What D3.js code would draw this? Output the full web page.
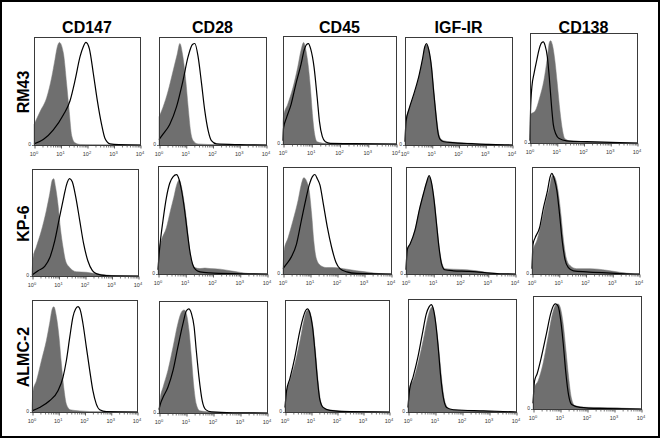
<!DOCTYPE html>
<html><head><meta charset="utf-8">
<script src="https://cdn.jsdelivr.net/npm/d3@7"></script>
<style>html,body{margin:0;padding:0;background:#fff}svg{display:block}</style>
</head><body><svg id="c" width="660" height="438"></svg>
<script>
// ---------- data ----------
const markers = ["CD147", "CD28", "CD45", "IGF-IR", "CD138"];
const cellLines = ["RM43", "KP-6", "ALMC-2"];
const majorTicks = [1, 10, 100, 1000, 10000];
const majorExponents = ["0", "1", "2", "3", "4"];
const yZeroLabel = "0";
// each curve: [log10(fluorescence), fraction of mode-scaled full height]
// gray filled = control, black outline = stained
const rm43_cd147_ctrl  = [[0,0.19],[0.23,0.31],[0.48,0.44],[0.67,0.63],[0.79,0.79],[0.88,0.91],[0.96,0.95],[1.11,0.85],[1.23,0.57],[1.33,0.31],[1.42,0.09],[1.55,0.02],[1.75,0.005],[2.2,0.002],[4,0]];
const rm43_cd147_stain = [[0,0.01],[0.35,0.05],[0.73,0.14],[1.11,0.28],[1.36,0.41],[1.55,0.6],[1.74,0.82],[1.86,0.91],[1.96,0.95],[2.09,0.89],[2.24,0.66],[2.39,0.41],[2.55,0.19],[2.68,0.06],[2.87,0.01],[3.2,0.003],[4,0]];
const rm43_cd28_ctrl   = [[0,0.26],[0.15,0.35],[0.34,0.5],[0.53,0.69],[0.68,0.84],[0.78,0.94],[0.88,0.84],[1.0,0.6],[1.09,0.35],[1.18,0.13],[1.28,0.04],[1.46,0.01],[2.2,0.003],[4,0]];
const rm43_cd28_stain  = [[0,0.05],[0.15,0.1],[0.4,0.19],[0.65,0.35],[0.9,0.6],[1.09,0.82],[1.25,0.93],[1.34,0.94],[1.46,0.82],[1.59,0.57],[1.71,0.32],[1.84,0.13],[1.96,0.04],[2.15,0.01],[3,0.003],[4,0]];
const rm43_cd45_ctrl   = [[0,0.2],[0.02,0.26],[0.17,0.37],[0.35,0.52],[0.52,0.71],[0.64,0.87],[0.73,0.94],[0.81,0.87],[0.9,0.71],[0.98,0.49],[1.04,0.28],[1.12,0.09],[1.21,0.02],[1.56,0.004],[4,0]];
const rm43_cd45_stain  = [[0,0.03],[0.02,0.15],[0.12,0.24],[0.29,0.37],[0.46,0.56],[0.64,0.74],[0.75,0.87],[0.83,0.92],[0.9,0.93],[0.98,0.88],[1.1,0.71],[1.21,0.43],[1.29,0.21],[1.39,0.07],[1.5,0.02],[1.68,0.005],[2.5,0.003],[4,0]];
const rm43_igf_ctrl    = [[0,0.05],[0.04,0.23],[0.16,0.34],[0.34,0.47],[0.53,0.64],[0.65,0.78],[0.75,0.91],[0.81,0.93],[0.9,0.87],[1.0,0.72],[1.08,0.5],[1.17,0.28],[1.24,0.14],[1.33,0.06],[1.45,0.04],[1.88,0.025],[2.5,0.015],[3.11,0.006],[3.73,0.001],[4,0]];
const rm43_igf_stain   = [[0,0.03],[0.04,0.22],[0.16,0.34],[0.34,0.48],[0.53,0.65],[0.65,0.79],[0.74,0.91],[0.8,0.94],[0.89,0.88],[0.99,0.72],[1.07,0.5],[1.16,0.27],[1.23,0.12],[1.32,0.05],[1.45,0.03],[1.88,0.02],[2.5,0.012],[3.11,0.005],[3.73,0.001],[4,0]];
const rm43_cd138_ctrl  = [[0,0.05],[0.02,0.26],[0.19,0.29],[0.37,0.42],[0.52,0.57],[0.65,0.78],[0.72,0.91],[0.77,0.93],[0.84,0.89],[0.93,0.75],[1.02,0.54],[1.12,0.29],[1.22,0.11],[1.3,0.04],[1.49,0.02],[2.11,0.012],[3.35,0.003],[4,0]];
const rm43_cd138_stain = [[0,0.02],[0.02,0.29],[0.07,0.51],[0.15,0.63],[0.25,0.75],[0.35,0.86],[0.43,0.91],[0.5,0.92],[0.56,0.89],[0.65,0.78],[0.72,0.6],[0.81,0.32],[0.87,0.17],[0.97,0.08],[1.09,0.04],[1.37,0.02],[2.11,0.012],[3.35,0.003],[4,0]];

const kp6_cd147_ctrl   = [[0,0.03],[0.04,0.17],[0.16,0.27],[0.35,0.42],[0.54,0.61],[0.67,0.77],[0.77,0.9],[0.82,0.91],[0.89,0.83],[0.98,0.67],[1.07,0.45],[1.17,0.27],[1.27,0.14],[1.42,0.08],[1.67,0.04],[2.05,0.035],[2.43,0.02],[2.8,0.01],[3.18,0.002],[4,0]];
const kp6_cd147_stain  = [[0,0.01],[0.23,0.05],[0.48,0.09],[0.67,0.17],[0.86,0.33],[1.04,0.55],[1.2,0.74],[1.3,0.85],[1.42,0.91],[1.52,0.88],[1.65,0.74],[1.8,0.52],[1.95,0.3],[2.11,0.14],[2.28,0.05],[2.45,0.02],[2.8,0.004],[4,0]];
const kp6_cd28_ctrl    = [[0,0.05],[0.04,0.23],[0.12,0.31],[0.31,0.43],[0.46,0.59],[0.58,0.71],[0.68,0.82],[0.78,0.87],[0.86,0.81],[0.95,0.68],[1.05,0.49],[1.14,0.27],[1.23,0.12],[1.35,0.06],[1.54,0.05],[1.72,0.055],[1.91,0.05],[2.28,0.045],[2.65,0.03],[3.02,0.015],[3.38,0.003],[4,0]];
const kp6_cd28_stain   = [[0,0.04],[0.04,0.18],[0.09,0.31],[0.18,0.49],[0.31,0.71],[0.43,0.84],[0.55,0.9],[0.68,0.92],[0.78,0.87],[0.86,0.78],[0.96,0.62],[1.07,0.4],[1.17,0.21],[1.27,0.09],[1.38,0.04],[1.54,0.02],[1.91,0.01],[2.77,0.003],[4,0]];
const kp6_cd45_ctrl    = [[0,0.05],[0.04,0.22],[0.19,0.34],[0.37,0.5],[0.56,0.69],[0.68,0.84],[0.77,0.9],[0.87,0.87],[0.97,0.78],[1.06,0.56],[1.14,0.31],[1.24,0.14],[1.39,0.08],[1.61,0.06],[1.86,0.06],[2.24,0.05],[2.73,0.03],[3.23,0.015],[3.6,0.003],[4,0]];
const kp6_cd45_stain   = [[0,0.05],[0.12,0.09],[0.31,0.16],[0.5,0.28],[0.68,0.5],[0.84,0.69],[0.97,0.83],[1.09,0.91],[1.18,0.93],[1.27,0.89],[1.37,0.83],[1.49,0.66],[1.64,0.44],[1.8,0.25],[1.96,0.11],[2.11,0.05],[2.36,0.02],[2.73,0.005],[4,0]];
const kp6_igf_ctrl     = [[0,0.06],[0.05,0.24],[0.15,0.28],[0.33,0.41],[0.49,0.6],[0.64,0.75],[0.76,0.86],[0.86,0.91],[0.94,0.85],[1.04,0.69],[1.13,0.47],[1.22,0.25],[1.31,0.11],[1.43,0.05],[1.74,0.045],[2.23,0.04],[2.59,0.03],[2.96,0.015],[3.45,0.003],[4,0]];
const kp6_igf_stain    = [[0,0.04],[0.05,0.23],[0.15,0.28],[0.33,0.41],[0.49,0.6],[0.64,0.75],[0.76,0.86],[0.85,0.92],[0.93,0.86],[1.03,0.69],[1.12,0.47],[1.21,0.25],[1.3,0.1],[1.42,0.04],[1.74,0.03],[2.23,0.025],[2.59,0.02],[2.96,0.01],[3.45,0.002],[4,0]];
const kp6_cd138_ctrl   = [[0,0.05],[0.04,0.21],[0.19,0.32],[0.37,0.5],[0.53,0.69],[0.66,0.81],[0.74,0.91],[0.8,0.92],[0.89,0.88],[0.99,0.75],[1.08,0.56],[1.18,0.31],[1.28,0.15],[1.42,0.08],[1.67,0.05],[2.17,0.05],[2.79,0.035],[3.28,0.016],[3.78,0.002],[4,0]];
const kp6_cd138_stain  = [[0,0.05],[0.04,0.28],[0.12,0.34],[0.28,0.43],[0.43,0.62],[0.58,0.78],[0.68,0.91],[0.74,0.94],[0.83,0.89],[0.93,0.78],[1.03,0.56],[1.13,0.31],[1.23,0.14],[1.36,0.06],[1.55,0.03],[2.04,0.02],[2.79,0.01],[3.5,0.002],[4,0]];

const almc2_cd147_ctrl  = [[0,0.05],[0.04,0.19],[0.17,0.28],[0.36,0.46],[0.55,0.64],[0.67,0.79],[0.77,0.92],[0.83,0.94],[0.93,0.85],[1.03,0.67],[1.12,0.43],[1.21,0.22],[1.31,0.07],[1.46,0.02],[1.82,0.01],[2.58,0.002],[4,0]];
const almc2_cd147_stain = [[0,0.01],[0.29,0.04],[0.67,0.1],[0.99,0.19],[1.18,0.31],[1.31,0.46],[1.44,0.67],[1.56,0.85],[1.66,0.92],[1.75,0.94],[1.84,0.91],[1.94,0.79],[2.07,0.58],[2.2,0.37],[2.32,0.19],[2.45,0.07],[2.58,0.02],[2.83,0.003],[4,0]];
const almc2_cd28_ctrl   = [[0,0.04],[0.05,0.14],[0.15,0.23],[0.33,0.38],[0.52,0.59],[0.7,0.8],[0.83,0.9],[0.93,0.92],[1.01,0.89],[1.11,0.74],[1.2,0.5],[1.28,0.26],[1.38,0.08],[1.51,0.02],[1.88,0.01],[2.74,0.002],[4,0]];
const almc2_cd28_stain  = [[0,0.03],[0.05,0.08],[0.15,0.14],[0.33,0.23],[0.52,0.38],[0.7,0.59],[0.89,0.8],[1.01,0.91],[1.1,0.93],[1.2,0.89],[1.3,0.77],[1.38,0.56],[1.48,0.32],[1.6,0.11],[1.73,0.03],[1.94,0.01],[2.74,0.002],[4,0]];
const almc2_cd45_ctrl   = [[0,0.04],[0.04,0.16],[0.19,0.28],[0.38,0.43],[0.58,0.64],[0.73,0.82],[0.83,0.9],[0.91,0.91],[1.0,0.86],[1.09,0.73],[1.18,0.52],[1.27,0.28],[1.37,0.1],[1.5,0.03],[1.85,0.015],[2.75,0.003],[4,0]];
const almc2_cd45_stain  = [[0,0.04],[0.06,0.19],[0.19,0.3],[0.38,0.49],[0.55,0.7],[0.68,0.83],[0.78,0.9],[0.86,0.92],[0.96,0.88],[1.06,0.76],[1.15,0.55],[1.24,0.31],[1.34,0.11],[1.47,0.04],[1.73,0.015],[2.49,0.003],[4,0]];
const almc2_igf_ctrl    = [[0,0.05],[0.06,0.22],[0.19,0.28],[0.37,0.43],[0.56,0.63],[0.71,0.81],[0.81,0.9],[0.89,0.93],[0.98,0.87],[1.08,0.69],[1.18,0.46],[1.28,0.22],[1.38,0.08],[1.55,0.024],[2.17,0.015],[3.04,0.009],[3.91,0.001],[4,0]];
const almc2_igf_stain   = [[0,0.04],[0.06,0.2],[0.19,0.31],[0.37,0.49],[0.53,0.69],[0.68,0.87],[0.78,0.93],[0.86,0.95],[0.93,0.92],[1.03,0.78],[1.12,0.57],[1.2,0.34],[1.3,0.14],[1.43,0.04],[1.68,0.02],[2.8,0.01],[3.91,0.001],[4,0]];
const almc2_cd138_ctrl  = [[0,0.05],[0.06,0.19],[0.19,0.25],[0.37,0.4],[0.56,0.64],[0.72,0.84],[0.84,0.92],[0.93,0.93],[1.02,0.89],[1.12,0.75],[1.22,0.52],[1.32,0.28],[1.42,0.1],[1.55,0.03],[1.99,0.015],[3.11,0.01],[3.8,0.002],[4,0]];
const almc2_cd138_stain = [[0,0.05],[0.06,0.25],[0.15,0.31],[0.31,0.46],[0.5,0.67],[0.65,0.84],[0.77,0.92],[0.84,0.93],[0.93,0.91],[1.03,0.78],[1.12,0.58],[1.22,0.31],[1.32,0.12],[1.43,0.04],[1.74,0.015],[2.48,0.005],[4,0]];

const controls = [
  [rm43_cd147_ctrl, rm43_cd28_ctrl, rm43_cd45_ctrl, rm43_igf_ctrl, rm43_cd138_ctrl],
  [kp6_cd147_ctrl, kp6_cd28_ctrl, kp6_cd45_ctrl, kp6_igf_ctrl, kp6_cd138_ctrl],
  [almc2_cd147_ctrl, almc2_cd28_ctrl, almc2_cd45_ctrl, almc2_igf_ctrl, almc2_cd138_ctrl]
];
const stains = [
  [rm43_cd147_stain, rm43_cd28_stain, rm43_cd45_stain, rm43_igf_stain, rm43_cd138_stain],
  [kp6_cd147_stain, kp6_cd28_stain, kp6_cd45_stain, kp6_igf_stain, kp6_cd138_stain],
  [almc2_cd147_stain, almc2_cd28_stain, almc2_cd45_stain, almc2_igf_stain, almc2_cd138_stain]
];

// ---------- layout (panel frames: left, top, right, bottom) ----------
const frames = [
  [[34,37,140,145],[159,37,266,145],[283,36,396,144],[405,37,512,145],[530,33,637,143]],
  [[32,169,138,276],[158,166,267,274],[283,167,391,274],[406,167,515,274],[532,167,639,274]],
  [[32,300,137,412],[159,301,267,413],[285,300,389,412],[408,299,516,412],[533,296,641,409]]
];
const FONT = "'Liberation Sans', Arial, Helvetica, sans-serif";

const svg = d3.select("#c");
svg.append("rect").attr("x",0).attr("y",0).attr("width",660).attr("height",438).attr("fill","#fff");
svg.append("rect").attr("x",1).attr("y",1).attr("width",658).attr("height",436)
  .attr("fill","none").attr("stroke","#000").attr("stroke-width",2);

const minorTicks = [];
for (let e = 0; e < 4; e++) for (let m = 2; m <= 9; m++) minorTicks.push(m * Math.pow(10, e));

frames.forEach((row, r) => {
  row.forEach((f, c) => {
    const [x0, y0, x1, y1] = f;
    const x = d3.scaleLog().domain([1, 1e4]).range([x0, x1]);
    const y = d3.scaleLinear().domain([0, 1]).range([y1, y0]);
    const g = svg.append("g");
    const area = d3.area().x(d => x(Math.pow(10, d[0]))).y0(y(0)).y1(d => y(d[1])).curve(d3.curveMonotoneX);
    const line = d3.line().x(d => x(Math.pow(10, d[0]))).y(d => y(d[1])).curve(d3.curveMonotoneX);
    g.append("path").datum(controls[r][c]).attr("d", area).attr("fill", "#6f6f6f").attr("stroke","#7a7a7a").attr("stroke-width",0.5);
    g.append("path").datum(stains[r][c]).attr("d", line).attr("fill", "none").attr("stroke", "#000").attr("stroke-width", 1.2);
    // frame
    g.append("rect").attr("x", x0 + 0.5).attr("y", y0 + 0.5).attr("width", x1 - x0).attr("height", y1 - y0)
      .attr("fill", "none").attr("stroke", "#3a3a3a").attr("stroke-width", 1);
    // x axis minor ticks
    const axMinor = g.append("g").attr("transform", `translate(0.5,${y1 + 0.5})`)
      .call(d3.axisBottom(x).tickValues(minorTicks).tickSize(2).tickFormat(""));
    axMinor.select(".domain").remove();
    axMinor.selectAll("line").attr("stroke", "#444").attr("stroke-width", 0.7);
    const axMajor = g.append("g").attr("transform", `translate(0.5,${y1 + 0.5})`)
      .call(d3.axisBottom(x).tickValues(majorTicks).tickSize(3).tickFormat(""));
    axMajor.select(".domain").remove();
    axMajor.selectAll("line").attr("stroke", "#333").attr("stroke-width", 0.8);
    // major labels 10^k
    majorTicks.forEach((t, i) => {
      const tx = g.append("text").attr("x", x(t)).attr("y", y1 + 11)
        .attr("text-anchor", "middle").attr("font-family", FONT).attr("font-size", 5.5).attr("fill", "#333");
      tx.append("tspan").text("10");
      tx.append("tspan").attr("font-size", 4).attr("dy", -2.5).text(majorExponents[i]);
    });
    // y zero
    g.append("line").attr("x1", x0 - 2).attr("x2", x0).attr("y1", y1 + 0.5).attr("y2", y1 + 0.5).attr("stroke", "#333").attr("stroke-width", 0.7);
    g.append("text").attr("x", x0 - 3).attr("y", y1 + 1).attr("text-anchor", "end")
      .attr("font-family", FONT).attr("font-size", 5).attr("fill", "#333").text(yZeroLabel);
    // column title
    if (r === 0) {
      svg.append("text").attr("x", (x0 + x1) / 2).attr("y", 33).attr("text-anchor", "middle")
        .attr("font-family", FONT).attr("font-weight", "bold").attr("font-size", 16).attr("fill", "#000").text(markers[c]);
    }
    // row label
    if (c === 0) {
      const cy = (y0 + y1) / 2 + 1;
      svg.append("text").attr("transform", `translate(29,${cy}) rotate(-90)`).attr("text-anchor", "middle")
        .attr("font-family", FONT).attr("font-weight", "bold").attr("font-size", 16).attr("fill", "#000").text(cellLines[r]);
    }
  });
});
</script>
</body></html>
